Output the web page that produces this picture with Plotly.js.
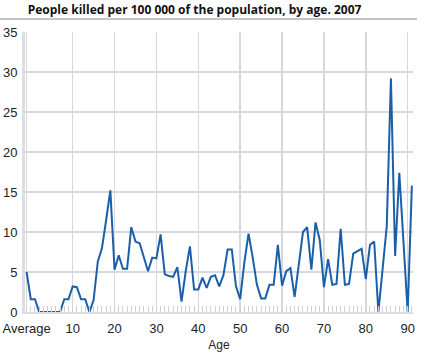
<!DOCTYPE html>
<html>
<head>
<meta charset="utf-8">
<script src="https://cdn.plot.ly/plotly-3.0.1.min.js"></script>
<style>html,body{margin:0;padding:0;background:#fff;}#chart{width:426px;height:356px;}</style>
</head>
<body>
<div id="chart"></div>
<script>
// Categories: "Average" followed by ages 0..91
var categories = ["Average"];
for (var a = 0; a <= 91; a++) categories.push(String(a));

// People killed per 100 000 of the population
var killedPer100k = [
  5.0,
  1.6, 1.6, 0, 0, 0, 0, 0, 0, 1.6, 1.6,       // 0-9
  3.2, 3.1, 1.6, 1.6, 0, 1.5, 6.3, 8.0, 11.5, 15.2, // 10-19
  5.3, 7.1, 5.4, 5.4, 10.6, 8.8, 8.6, 6.9, 5.1, 6.8, // 20-29
  6.7, 9.7, 4.7, 4.5, 4.4, 5.6, 1.3, 5.1, 8.2, 2.8,  // 30-39
  2.8, 4.3, 3.0, 4.4, 4.6, 3.2, 4.6, 7.8, 7.8, 3.2,  // 40-49
  1.6, 6.2, 9.8, 6.8, 3.4, 1.7, 1.7, 3.4, 3.4, 8.4,  // 50-59
  3.3, 5.1, 5.5, 1.9, 6.0, 10.0, 10.6, 5.3, 11.2, 9.0, // 60-69
  3.1, 6.6, 3.4, 3.5, 10.4, 3.4, 3.5, 7.3, 7.6, 7.9, // 70-79
  4.1, 8.4, 8.8, 0, 5.3, 10.7, 29.2, 7.0, 17.4, 9.0, // 80-89
  0, 15.8                                            // 90-91
];

var labeledTicks = ["Average", "10", "20", "30", "40", "50", "60", "70", "80", "90"];
var yTicks = [0, 5, 10, 15, 20, 25, 30, 35];

var xIdx = categories.map(function (c, i) { return i; });
var tickvals = labeledTicks.map(function (t) { return categories.indexOf(t); });

var trace = {
  x: xIdx,
  y: killedPer100k,
  type: 'scatter',
  mode: 'lines',
  line: {color: '#1b5fa9', width: 2},
  hoverinfo: 'skip'
};

var layout = {
  width: 426, height: 356,
  margin: {l: 25, r: 13, t: 32, b: 44, pad: 0},
  paper_bgcolor: '#ffffff',
  plot_bgcolor: '#ffffff',
  showlegend: false,
  font: {family: 'Liberation Sans, Arial, sans-serif', size: 13, color: '#222'},
  title: {
    text: '<b>People killed per 100 000 of the population, by age. 2007</b>',
    font: {family: 'Open Sans, sans-serif', size: 12, color: '#111'},
    x: 0.007, xanchor: 'left', xref: 'paper',
    y: 0.972, yanchor: 'middle', yref: 'container'
  },
  xaxis: {
    range: [-0.38, 92.27],
    tickmode: 'array',
    tickvals: tickvals,
    ticktext: labeledTicks,
    ticks: 'inside',
    ticklen: 6,
    tickcolor: '#d0d0d8',
    tickwidth: 1,
    ticklabelstandoff: 3,
    showgrid: true,
    gridcolor: '#d7d7de',
    gridwidth: 1.5,
    zeroline: false,
    showline: true,
    linecolor: '#dcdce3',
    linewidth: 2,
    tickfont: {size: 13, color: '#222'},
    minor: {dtick: 1, tick0: 0, ticks: 'inside', ticklen: 6, tickcolor: '#d0d0d8', tickwidth: 1, showgrid: false},
    title: {text: 'Age', font: {size: 12, color: '#222'}, standoff: 6},
    fixedrange: true
  },
  yaxis: {
    range: [0, 35],
    tickmode: 'array',
    tickvals: yTicks,
    ticktext: yTicks.map(String),
    ticks: '',
    showgrid: true,
    gridcolor: '#d7d7de',
    gridwidth: 1.5,
    zeroline: false,
    showline: true,
    linecolor: '#dcdce3',
    linewidth: 3,
    tickfont: {size: 13, color: '#222'},
    ticklabelstandoff: 2,
    fixedrange: true
  },
  shapes: [{
    type: 'line', xref: 'paper', yref: 'paper',
    x0: -25 / 388, x1: 392 / 388,
    y0: 1 + 13 / 280, y1: 1 + 13 / 280,
    line: {color: '#c4c4c4', width: 2}
  }]
};

Plotly.newPlot('chart', [trace], layout, {displayModeBar: false, staticPlot: true});
</script>
</body>
</html>
